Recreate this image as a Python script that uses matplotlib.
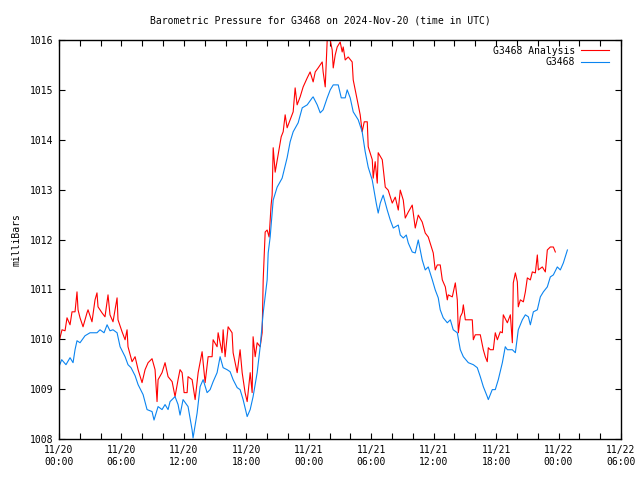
import matplotlib
matplotlib.use('Agg')
import matplotlib.pyplot as plt
from matplotlib.ticker import MultipleLocator

# Hours since 2024-11-20 00:00 UTC and pressure (mb)
anal_hours = [0.0, 0.05, 0.29, 0.58, 0.77, 1.06, 1.25, 1.54, 1.73, 1.83, 2.02, 2.31, 2.69, 2.79,
              3.17, 3.46, 3.65, 3.75, 4.13, 4.42, 4.71, 4.9, 5.19, 5.58, 5.67, 6.06, 6.35, 6.54,
              6.63, 7.02, 7.31, 7.6, 7.98, 8.27, 8.56, 8.94, 9.23, 9.42, 9.52, 9.9, 10.19, 10.48,
              10.87, 11.15, 11.44, 11.63, 11.83, 12.02, 12.31, 12.4, 12.79, 13.08, 13.37, 13.75,
              14.04, 14.33, 14.71, 14.81, 15.19, 15.29, 15.67, 15.77, 15.96, 16.25, 16.63, 16.73,
              17.12, 17.4, 17.6, 17.88, 18.08, 18.37, 18.56, 18.65, 18.85, 19.04, 19.33, 19.52,
              19.62, 19.81, 20.0, 20.19, 20.38, 20.48, 20.58, 20.77, 21.06, 21.35, 21.54, 21.73,
              21.92, 22.21, 22.5, 22.69, 22.88, 23.17, 23.46, 23.85, 24.13, 24.42, 24.62, 24.9,
              25.29, 25.38, 25.58, 25.77, 26.06, 26.25, 26.35, 26.54, 26.73, 27.02, 27.21, 27.31,
              27.5, 27.79, 28.17, 28.27, 28.75, 28.94, 29.13, 29.33, 29.62, 29.71, 30.1, 30.19,
              30.38, 30.58, 30.67, 31.06, 31.35, 31.63, 32.02, 32.31, 32.6, 32.79, 33.08, 33.27,
              33.56, 33.94, 34.23, 34.52, 34.9, 35.19, 35.48, 35.96, 36.15, 36.35, 36.63, 36.83,
              37.12, 37.31, 37.4, 37.79, 38.08, 38.27, 38.37, 38.56, 38.75, 38.85, 39.04, 39.71,
              39.81, 40.0, 40.48, 40.77, 40.96, 41.15, 41.25, 41.44, 41.73, 41.92, 42.12, 42.4,
              42.6, 42.69, 43.08, 43.37, 43.56, 43.65, 43.85, 44.04, 44.13, 44.33, 44.62, 44.81,
              45.0, 45.29, 45.48, 45.77, 45.96, 46.06, 46.44, 46.73, 46.92, 47.21, 47.5, 47.69]
anal_mb = [1010.13, 1009.99, 1010.19, 1010.17, 1010.43, 1010.29, 1010.55, 1010.55, 1010.95, 1010.59,
           1010.43, 1010.25, 1010.53, 1010.59, 1010.35, 1010.79, 1010.93, 1010.65, 1010.53, 1010.45,
           1010.89, 1010.49, 1010.35, 1010.83, 1010.39, 1010.15, 1009.99, 1010.19, 1009.85, 1009.55,
           1009.65, 1009.39, 1009.13, 1009.39, 1009.53, 1009.61, 1009.39, 1008.75, 1009.19, 1009.33,
           1009.53, 1009.25, 1009.15, 1008.85, 1009.19, 1009.39, 1009.33, 1008.93, 1008.93, 1009.25,
           1009.19, 1008.79, 1009.33, 1009.75, 1009.13, 1009.65, 1009.65, 1009.99, 1009.85, 1010.13,
           1009.73, 1010.19, 1009.65, 1010.25, 1010.13, 1009.73, 1009.33, 1009.79, 1009.33, 1008.93,
           1008.75, 1009.33, 1008.93, 1010.05, 1009.65, 1009.93, 1009.85, 1010.13, 1011.19, 1012.15,
           1012.19, 1012.05, 1012.69, 1012.89, 1013.84, 1013.35, 1013.7, 1014.06, 1014.16, 1014.5,
           1014.24, 1014.4, 1014.56, 1015.04, 1014.7, 1014.86, 1015.06, 1015.24, 1015.36, 1015.16,
           1015.36, 1015.44, 1015.56, 1015.36, 1015.06, 1016.0, 1016.0, 1015.8, 1015.44, 1015.7,
           1015.86, 1015.96, 1015.76, 1015.86, 1015.6, 1015.66, 1015.56, 1015.2, 1014.7, 1014.5,
           1014.16, 1014.36, 1014.36, 1013.86, 1013.6, 1013.23, 1013.56, 1013.13, 1013.74, 1013.6,
           1013.05, 1012.99, 1012.73, 1012.85, 1012.59, 1012.99, 1012.79, 1012.43, 1012.55, 1012.69,
           1012.23, 1012.49, 1012.35, 1012.13, 1012.05, 1011.73, 1011.39, 1011.49, 1011.49, 1011.19,
           1011.05, 1010.79, 1010.89, 1010.85, 1011.13, 1010.79, 1010.13, 1010.45, 1010.53, 1010.69,
           1010.39, 1010.39, 1009.99, 1010.09, 1010.09, 1009.79, 1009.65, 1009.55, 1009.83, 1009.79,
           1009.79, 1010.13, 1009.99, 1010.15, 1010.13, 1010.49, 1010.33, 1010.49, 1009.93, 1011.13,
           1011.33, 1011.15, 1010.65, 1010.79, 1010.75, 1010.95, 1011.23, 1011.19, 1011.35, 1011.33,
           1011.69, 1011.39, 1011.45, 1011.35, 1011.79, 1011.85, 1011.85, 1011.75]

obs_hours = [0.0, 0.26, 0.67, 1.06, 1.35, 1.54, 1.73, 2.02, 2.5, 2.98, 3.65, 3.94, 4.33, 4.62, 4.9,
             5.19, 5.58, 5.87, 6.35, 6.63, 6.92, 7.31, 7.6, 8.08, 8.46, 8.94, 9.13, 9.52, 9.9,
             10.19, 10.48, 10.67, 11.15, 11.44, 11.63, 11.92, 12.4, 12.79, 12.88, 13.27, 13.56,
             13.85, 14.23, 14.52, 14.81, 15.19, 15.48, 15.77, 16.15, 16.44, 16.73, 17.12, 17.4,
             17.69, 18.08, 18.37, 18.65, 19.04, 19.33, 19.62, 20.0, 20.1, 20.29, 20.58, 20.96,
             21.44, 21.92, 22.21, 22.5, 22.98, 23.37, 23.85, 24.33, 24.42, 24.81, 25.1, 25.38,
             25.77, 26.06, 26.35, 26.83, 27.12, 27.5, 27.69, 27.98, 28.27, 28.75, 29.13, 29.42,
             29.71, 30.1, 30.48, 30.67, 30.87, 31.15, 31.54, 31.83, 32.12, 32.6, 32.79, 33.08,
             33.37, 33.56, 33.94, 34.23, 34.52, 34.9, 35.19, 35.48, 35.87, 36.15, 36.44, 36.63,
             36.92, 37.31, 37.6, 37.88, 38.27, 38.56, 38.85, 39.33, 39.81, 40.19, 40.48, 40.77,
             41.15, 41.25, 41.63, 41.92, 42.21, 42.6, 42.88, 43.08, 43.56, 43.85, 44.13, 44.52,
             44.81, 45.1, 45.29, 45.58, 45.96, 46.25, 46.54, 46.92, 47.21, 47.5, 47.88, 48.17,
             48.46, 48.85]
obs_mb = [1009.45, 1009.59, 1009.49, 1009.63, 1009.53, 1009.79, 1009.97, 1009.93, 1010.07, 1010.13,
          1010.13, 1010.19, 1010.13, 1010.29, 1010.17, 1010.19, 1010.13, 1009.85, 1009.65, 1009.49,
          1009.43, 1009.27, 1009.09, 1008.89, 1008.59, 1008.55, 1008.38, 1008.65, 1008.59, 1008.69,
          1008.59, 1008.75, 1008.85, 1008.69, 1008.48, 1008.79, 1008.65, 1008.18, 1008.02, 1008.52,
          1009.05, 1009.19, 1008.93, 1008.99, 1009.15, 1009.33, 1009.65, 1009.43, 1009.39, 1009.35,
          1009.19, 1009.03, 1008.99, 1008.79, 1008.45, 1008.59, 1008.85, 1009.33, 1009.85, 1010.53,
          1011.19, 1011.73, 1012.05, 1012.79, 1013.05, 1013.23, 1013.64, 1013.96, 1014.16, 1014.34,
          1014.64, 1014.7, 1014.84, 1014.86, 1014.7, 1014.54, 1014.6, 1014.84, 1015.0, 1015.1,
          1015.1, 1014.84, 1014.84, 1015.0, 1014.84, 1014.56, 1014.4, 1014.16, 1013.76, 1013.45,
          1013.19, 1012.73, 1012.53, 1012.73, 1012.89, 1012.59, 1012.39, 1012.23, 1012.29, 1012.09,
          1012.03, 1012.09, 1011.93, 1011.75, 1011.73, 1011.99, 1011.59, 1011.39, 1011.45, 1011.19,
          1010.99, 1010.83, 1010.59, 1010.43, 1010.33, 1010.39, 1010.19, 1010.13, 1009.79, 1009.65,
          1009.53, 1009.49, 1009.43, 1009.25, 1009.05, 1008.85, 1008.79, 1008.99, 1008.99, 1009.19,
          1009.53, 1009.85, 1009.79, 1009.79, 1009.73, 1010.19, 1010.39, 1010.49, 1010.45, 1010.29,
          1010.55, 1010.59, 1010.85, 1010.95, 1011.05, 1011.25, 1011.29, 1011.45, 1011.39, 1011.53,
          1011.79]

tick_hours = [0, 6, 12, 18, 24, 30, 36, 42, 48, 54]
tick_labels = ['11/20\n00:00', '11/20\n06:00', '11/20\n12:00', '11/20\n18:00', '11/21\n00:00',
               '11/21\n06:00', '11/21\n12:00', '11/21\n18:00', '11/22\n00:00', '11/22\n06:00']

font = 'DejaVu Sans Mono'
fs = 7

fig = plt.figure(figsize=(6.4, 4.8), dpi=100)
ax = fig.add_axes([59 / 640, 41 / 480, 562 / 640, 399 / 480])

ax.plot(anal_hours, anal_mb, color='#ff0000', lw=0.8, label='G3468 Analysis')
ax.plot(obs_hours, obs_mb, color='#0a84f0', lw=0.8, label='G3468')

ax.set_xlim(0, 54)
ax.set_ylim(1008, 1016)
ax.set_xticks(tick_hours)
ax.set_xticklabels(tick_labels, fontsize=fs, fontname=font, linespacing=1.3)
ax.xaxis.set_minor_locator(MultipleLocator(2))
ax.set_yticks(range(1008, 1017))
ax.set_yticklabels([str(v) for v in range(1008, 1017)], fontsize=fs, fontname=font)
ax.tick_params(which='both', direction='in', top=True, right=True, length=4, width=0.8, pad=4)
for sp in ax.spines.values():
    sp.set_linewidth(1.0)

ax.set_ylabel('milliBars', fontsize=fs, fontname=font, labelpad=6)
fig.text(0.5, 0.958, 'Barometric Pressure for G3468 on 2024-Nov-20 (time in UTC)',
         ha='center', va='center', fontsize=fs, fontname=font)

ax.legend(loc='upper right', bbox_to_anchor=(0.989, 1.0), frameon=False, markerfirst=False,
          handlelength=2.9, handletextpad=0.6, labelspacing=0.15, borderaxespad=0.2,
          prop={'family': font, 'size': fs})

fig.savefig('out.png', dpi=100)
